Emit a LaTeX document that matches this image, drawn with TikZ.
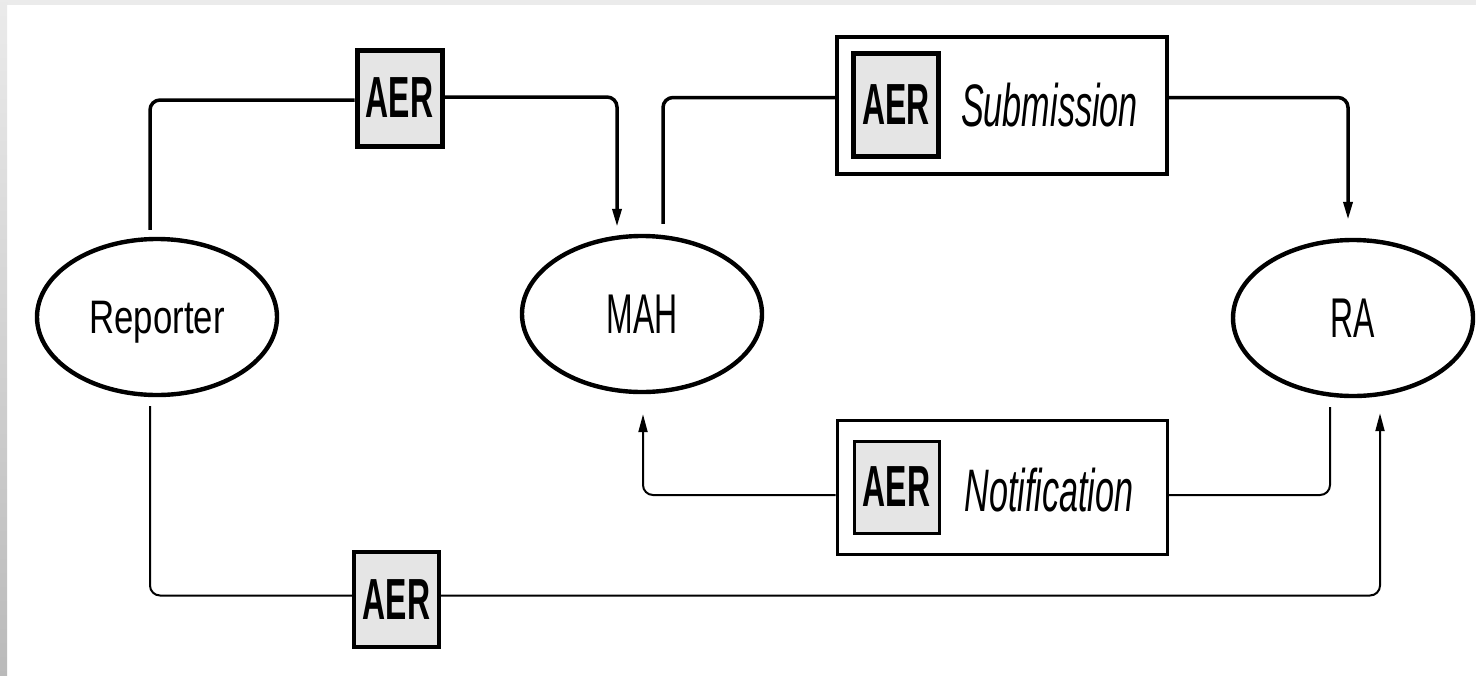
\documentclass[tikz,border=0pt]{standalone}
\usepackage{fontspec}
\setmainfont{Liberation Sans}
\usepackage{graphicx}
\usetikzlibrary{shapes.geometric,arrows.meta}
\newcommand{\narrowtext}[2]{\scalebox{#1}[1]{#2}}

\begin{document}
\begin{tikzpicture}[x=.5pt,y=-.5pt,>={Triangle[length=9pt,width=4.5pt]},
    party/.style={ellipse,draw,line width=2.2pt,minimum width=120pt,minimum height=78pt,
        inner sep=0pt,text depth=0pt,font=\fontsize{28}{28}\selectfont},
    aer/.style={draw,fill=black!10,inner sep=0pt,minimum width=42.5pt,
        font=\fontsize{29}{29}\selectfont\bfseries},
    msg/.style={draw,inner sep=0pt,minimum width=165pt},
    msgtext/.style={inner sep=0pt,font=\fontsize{30}{30}\selectfont\itshape},
    flow/.style={line width=1.75pt,rounded corners=5pt},
    thinflow/.style={line width=1pt,rounded corners=5pt}]
    \useasboundingbox (0,0) rectangle (1476,675);
    \fill[white] (0,0) rectangle (1476,675);
    \fill[black!8] (0,0) rectangle (1476,5);
    \shade[top color=black!8,bottom color=black!27] (0,0) rectangle (7,675);
    % parties
    \node[party,font=\fontsize{23.5}{23.5}\selectfont] (rep) at (157,317) {\narrowtext{.74}{Reporter}};
    \node[party] (mah) at (642,314) {\narrowtext{.57}{MAH}};
    \node[party] (ra) at (1353,318) {\narrowtext{.57}{RA}};
    % reports
    \node[aer,minimum height=48pt,line width=2.5pt] (aerrep) at (399.5,98) {\narrowtext{.55}{AER}};
    \node[aer,minimum height=47.5pt,line width=1.8pt] (aerdir) at (396.5,599.5) {\narrowtext{.55}{AER}};
    \node[msg,minimum height=68.5pt,line width=2pt] (sub) at (1002,105.5) {};
    \node[aer,minimum height=51.5pt,line width=2.5pt] (subaer) at (896,104.5) {\narrowtext{.55}{AER}};
    \node[msgtext] (subtxt) at (1049.5,105) {\narrowtext{.57}{Submission}};
    \node[msg,minimum height=67pt,line width=1.5pt] (note) at (1002,487) {};
    \node[aer,minimum height=46pt,line width=1.5pt] (noteaer) at (896.5,487) {\narrowtext{.55}{AER}};
    \node[msgtext] (notetxt) at (1049,490) {\narrowtext{.57}{Notification}};
    % flows
    \draw[flow] ([xshift=-3.5pt,yshift=3.5pt]rep.north) |- ([yshift=-1pt]aerrep.west);
    \draw[flow,->] ([yshift=.5pt]aerrep.east) -| ([xshift=-12.5pt,yshift=3.5pt]mah.north);
    \draw[flow] ([xshift=10.5pt,yshift=5pt]mah.north) |- ([yshift=4pt]sub.west);
    \draw[flow,->] ([yshift=4pt]sub.east) -| ([xshift=-2.5pt,yshift=9pt]ra.north);
    \draw[thinflow] ([xshift=-11.5pt,yshift=-4.5pt]ra.south) |- ([yshift=-4pt]note.east);
    \draw[thinflow,->] ([yshift=-4pt]note.west) -| ([xshift=.5pt,yshift=-10pt]mah.south);
    \draw[thinflow] ([xshift=-3.5pt,yshift=-4.5pt]rep.south) |- ([yshift=2pt]aerdir.west);
    \draw[thinflow,->] ([yshift=2pt]aerdir.east) -| ([xshift=13.5pt,yshift=-7.5pt]ra.south);
\end{tikzpicture}
\end{document}
